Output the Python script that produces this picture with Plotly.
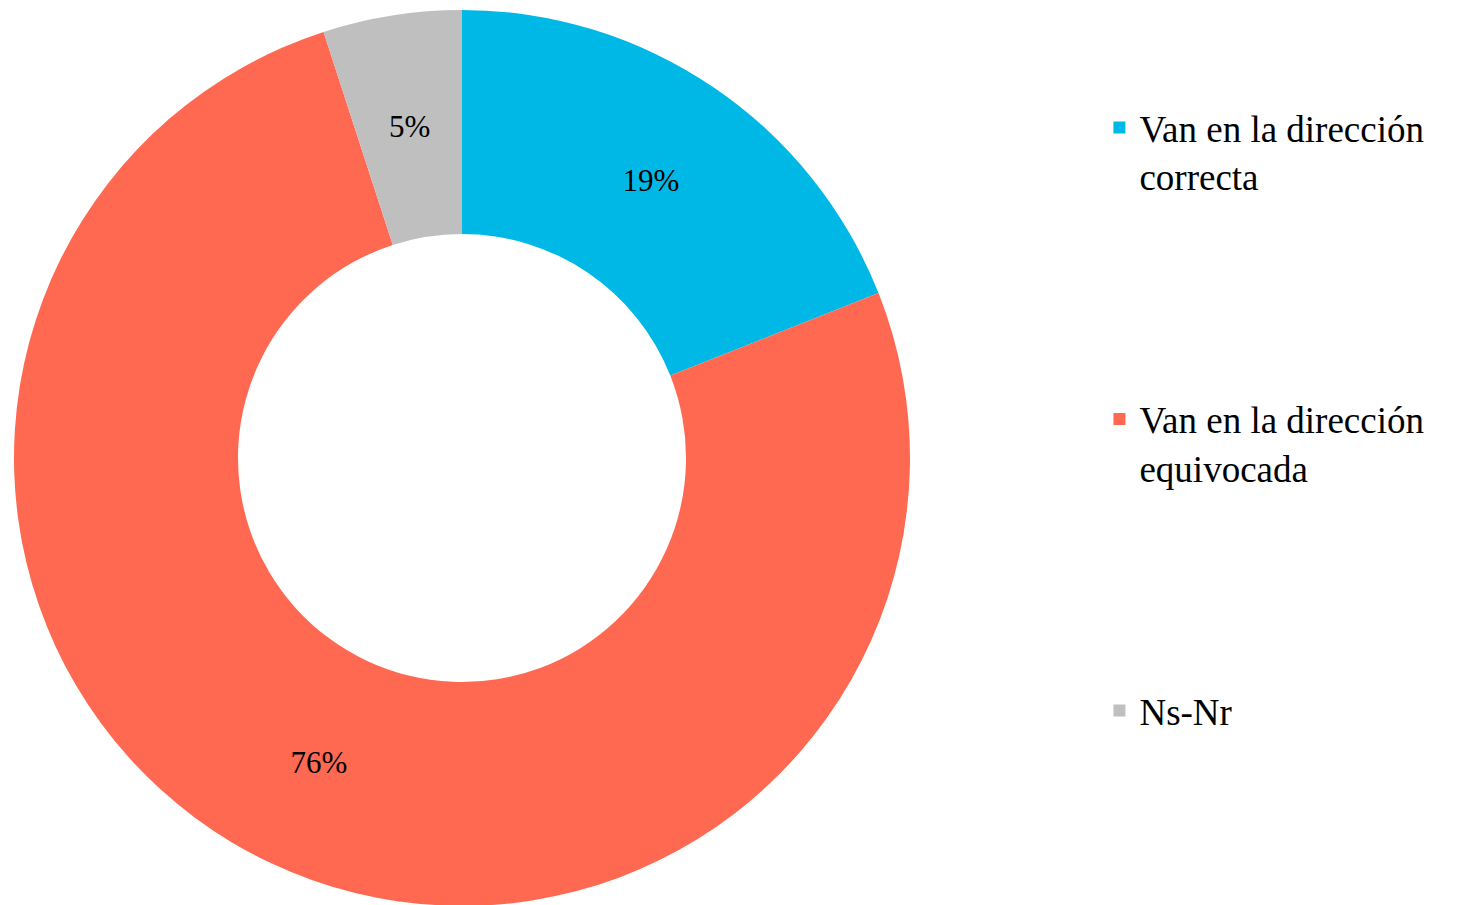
import math
import plotly.graph_objects as go

labels = ['Van en la dirección<br>correcta', 'Van en la dirección<br>equivocada', 'Ns-Nr']
values = [19, 76, 5]
colors = ['#00B8E6', '#FF6952', '#BFBFBF']

# extra blank lines give the wide gaps between legend entries
pad = '<br> ' * 4
legend_labels = [labels[0] + pad, labels[1] + pad, labels[2]]

W, H = 1465, 905
dom_x = [0, 0.6198]
dom_y = [0.00775, 1]

fig = go.Figure(data=[go.Pie(
    labels=legend_labels, values=values, hole=0.5, sort=False, direction='clockwise',
    marker=dict(colors=colors, line=dict(width=0)),
    texttemplate=['%{value}%', '%{value}%', ''], textposition='inside', insidetextorientation='horizontal',
    textfont=dict(family='Liberation Serif', size=31, color='black'),
    domain=dict(x=dom_x, y=dom_y)
)])

# the thin grey slice: plotly pushes its label outward, so place it at mid-ring
plot_h = H - 2
r_px = min(W * (dom_x[1] - dom_x[0]), plot_h * (dom_y[1] - dom_y[0])) / 2
mid_r = r_px * 0.75
ang = 2 * math.pi * (sum(values[:2]) + values[2] / 2) / sum(values)
cx = (dom_x[0] + dom_x[1]) / 2
cy = (dom_y[0] + dom_y[1]) / 2
fig.add_annotation(x=cx + mid_r * math.sin(ang) / W, y=cy + mid_r * math.cos(ang) / plot_h,
                   xref='paper', yref='paper', xanchor='center', yanchor='middle',
                   text=f'{values[2]}%', showarrow=False,
                   font=dict(family='Liberation Serif', size=31, color='black'))

fig.update_layout(width=W, height=H, margin=dict(l=0, r=0, t=2, b=0),
                  paper_bgcolor='white', plot_bgcolor='white',
                  legend=dict(x=0.745, y=0.9038, xanchor='left', yanchor='top', valign='top',
                              font=dict(family='Liberation Serif', size=37, color='black'),
                              itemsizing='constant', maxheight=900))
fig.write_html("out.html")
